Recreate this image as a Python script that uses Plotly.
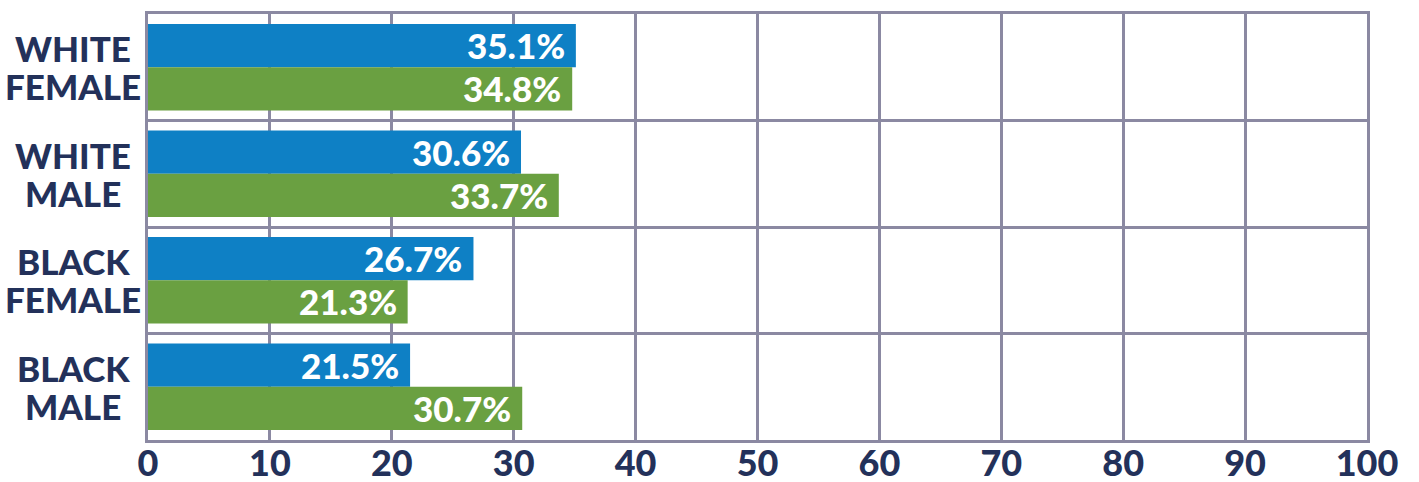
import plotly.graph_objects as go

# Share of each group, two survey series
group_line1 = ["WHITE", "WHITE", "BLACK", "BLACK"]
group_line2 = ["FEMALE", "MALE", "FEMALE", "MALE"]
categories = ["WHITE FEMALE", "WHITE MALE", "BLACK FEMALE", "BLACK MALE"]
series_blue = [35.1, 30.6, 26.7, 21.5]
series_green = [34.8, 33.7, 21.3, 30.7]
x_ticks = [0, 10, 20, 30, 40, 50, 60, 70, 80, 90, 100]

BLUE = "#0e80c5"
GREEN = "#6aa041"
NAVY = "#23315a"
GRID = "#8b89a2"
FONT = "Lato"

fig = go.Figure()
fig.add_trace(go.Bar(y=categories, x=series_blue, orientation="h",
                     marker=dict(color=BLUE, line=dict(width=0)), name="blue"))
fig.add_trace(go.Bar(y=categories, x=series_green, orientation="h",
                     marker=dict(color=GREEN, line=dict(width=0)), name="green"))

annotations = []
# two-line group labels, centred left of the plot
for cat, l1, l2 in zip(categories, group_line1, group_line2):
    for txt, dy in ((l1, 19), (l2, -19)):
        annotations.append(dict(
            x=-0.0615, xref="paper", y=cat, yref="y", yshift=dy,
            text=txt, showarrow=False, xanchor="center", yanchor="middle",
            font=dict(family=FONT, size=35, color=NAVY, weight=900)))

# value labels inside the end of each bar
for cat, vb, vg in zip(categories, series_blue, series_green):
    for v, dy in ((vb, 22), (vg, -21)):
        annotations.append(dict(
            x=v, xref="x", y=cat, yref="y", yshift=dy, xshift=-9,
            text=f"{v:.1f}%", showarrow=False, xanchor="right", yanchor="middle",
            font=dict(family=FONT, size=35, color="white", weight=900)))

fig.update_layout(
    barmode="group", bargap=0.186, bargroupgap=0,
    width=1419, height=482,
    margin=dict(l=148, r=52, t=14, b=42, autoexpand=False),
    paper_bgcolor="white", plot_bgcolor="white",
    showlegend=False,
    annotations=annotations,
    xaxis=dict(range=[0, 100], tickvals=x_ticks, ticktext=[str(t) for t in x_ticks],
               automargin=False,
               showgrid=True, gridcolor=GRID, gridwidth=3,
               showline=True, linecolor=GRID, linewidth=3, mirror=True,
               zeroline=False, ticks="", ticklen=0, ticklabelstandoff=-10,
               tickfont=dict(family=FONT, size=36, color=NAVY, weight=900)),
    yaxis=dict(type="category", categoryorder="array", categoryarray=categories,
               autorange="reversed", tickson="boundaries", automargin=False,
               showgrid=True, gridcolor=GRID, gridwidth=3,
               showline=True, linecolor=GRID, linewidth=3, mirror=True,
               zeroline=False, showticklabels=False, ticks=""),
)

fig.write_html("out.html")
